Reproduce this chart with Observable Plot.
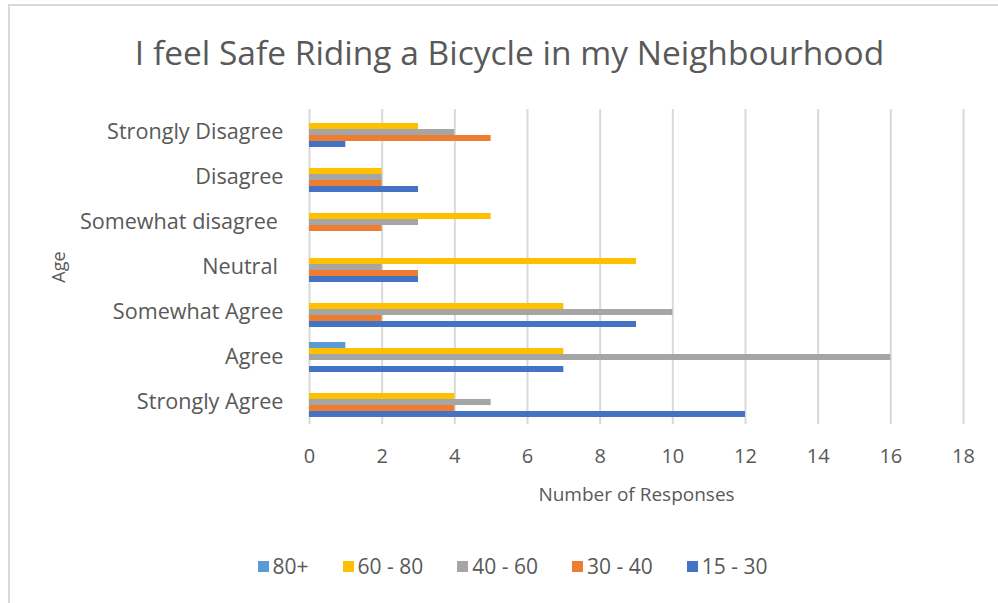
<!DOCTYPE html>
<html>
<head>
<meta charset="utf-8">
<script src="https://cdn.jsdelivr.net/npm/d3@7"></script>
<script src="https://cdn.jsdelivr.net/npm/@observablehq/plot@0.6"></script>
<style>
  html, body { margin: 0; padding: 0; background: #fff; }
  body { width: 998px; height: 603px; position: relative; overflow: hidden; font-family: "Open Sans", sans-serif; }
  #frame { position: absolute; left: 8px; top: 4px; width: 1000px; height: 700px;
           border-top: 2px solid #d9d9d9; border-left: 2px solid #d9d9d9; }
  #title { position: absolute; left: 0; width: 1019px; top: 33px; text-align: center;
           font-size: 33.5px; line-height: 38px; color: #595959; }
  #chart { position: absolute; left: 0; top: 90px; }
  #chart svg text { white-space: pre; }
  #legend { position: absolute; left: 0; width: 1025px; top: 552px; display: flex; justify-content: center;
            font-size: 21px; color: #595959; line-height: 28px; }
  .item { display: flex; align-items: center; margin: 0 17px; }
  .sw { width: 11px; height: 11px; margin-right: 4px; }
</style>
</head>
<body>
<div id="frame"></div>
<div id="title">I feel Safe Riding a Bicycle in my Neighbourhood</div>
<div id="chart"></div>
<div id="legend"></div>
<script>
// Categories (top to bottom)
const categories = ["Strongly Disagree", "Disagree", "Somewhat disagree ", "Neutral ", "Somewhat Agree", "Agree", "Strongly Agree"];
// Series (legend order, also top-to-bottom within each group)
const series = ["80+", "60 - 80", "40 - 60", "30 - 40", "15 - 30"];
const colors = ["#5B9BD5", "#FFC000", "#A5A5A5", "#ED7D31", "#4472C4"];
// Values per series, aligned with categories
const v80plus = [0, 0, 0, 0, 0, 1, 0];
const v60to80 = [3, 2, 5, 9, 7, 7, 4];
const v40to60 = [4, 2, 3, 2, 10, 16, 5];
const v30to40 = [5, 2, 2, 3, 2, 0, 4];
const v15to30 = [1, 3, 0, 3, 9, 7, 12];
const xTicks = [0, 2, 4, 6, 8, 10, 12, 14, 16, 18];

const seriesValues = [v80plus, v60to80, v40to60, v30to40, v15to30];
const rows = [];
categories.forEach((c, i) => series.forEach((s, j) => rows.push({category: c, series: s, value: seriesValues[j][i]})));

const chart = Plot.plot({
  width: 998,
  height: 420,
  marginTop: 19,
  marginBottom: 86,
  marginLeft: 309,
  marginRight: 35,
  style: {fontFamily: "Open Sans", color: "#595959", background: "transparent", overflow: "visible"},
  x: {domain: [0, 18]},
  y: {domain: series, paddingInner: 0, paddingOuter: 0.91, axis: null},
  fy: {domain: categories, padding: 0},
  color: {domain: series, range: colors},
  marks: [
    Plot.gridX(xTicks, {stroke: "#d9d9d9", strokeOpacity: 1, strokeWidth: 2}),
    Plot.barX(rows, {x: "value", y: "series", fy: "category", fill: "series"}),
    Plot.axisX(xTicks, {tickSize: 0, tickPadding: 24, fontSize: 20, label: null}),
    Plot.axisX([], {tickSize: 0, label: "Number of Responses", labelAnchor: "center", labelOffset: 76, labelArrow: "none", fontSize: 19}),
    Plot.axisFy({anchor: "left", tickSize: 0, tickPadding: 26, fontSize: 21.6, label: null}),
    Plot.axisFy([], {anchor: "left", tickSize: 0, label: "Age", labelAnchor: "center", labelOffset: 257, labelArrow: "none", fontSize: 18})
  ]
});
document.getElementById("chart").appendChild(chart);

const legend = document.getElementById("legend");
series.forEach((s, i) => {
  const item = document.createElement("div");
  item.className = "item";
  const sw = document.createElement("div");
  sw.className = "sw";
  sw.style.background = colors[i];
  const t = document.createElement("span");
  t.textContent = s;
  item.appendChild(sw);
  item.appendChild(t);
  legend.appendChild(item);
});
</script>
</body>
</html>
